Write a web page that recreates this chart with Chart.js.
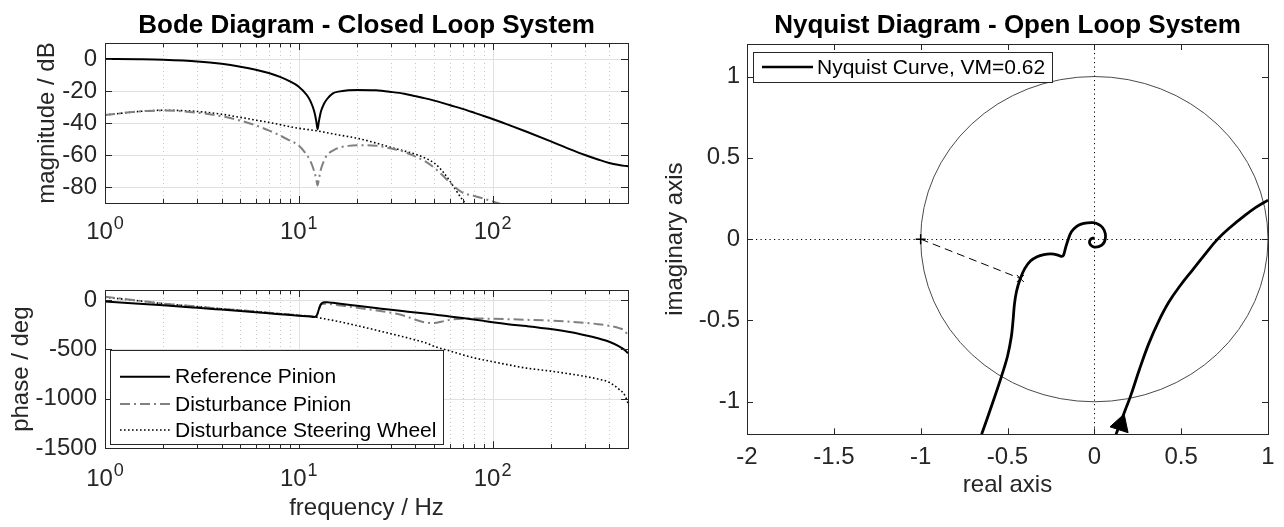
<!DOCTYPE html>
<html>
<head>
<meta charset="utf-8">
<script src="https://cdn.jsdelivr.net/npm/chart.js@4.4.0/dist/chart.umd.min.js"></script>
<style>
    html, body { margin: 0; padding: 0; background: #fff; }
    body { width: 1284px; height: 527px; position: relative; overflow: hidden; }
    canvas { position: absolute; display: block; }
</style>
</head>
<body>
<canvas id="magChart" width="640" height="250" style="left:0;top:0;width:640px;height:250px"></canvas>
<canvas id="phaseChart" width="640" height="277" style="left:0;top:250px;width:640px;height:277px"></canvas>
<canvas id="nyqChart" width="644" height="527" style="left:640px;top:0;width:644px;height:527px"></canvas>
<script>
// ---- data ----
const freq = [1, 1.5, 2, 3, 4, 5, 6, 7, 8, 9, 10, 11, 11.5, 12, 12.3, 12.5, 12.7, 13, 13.5, 14, 15, 16, 18, 20, 25, 30, 35, 40, 45, 50, 55, 60, 70, 80, 90, 100, 120, 150, 200, 250, 300, 350, 400, 450, 480, 500];

const magRef = [0, -0.2, -0.5, -1.5, -3, -4.8, -6.7, -8.8, -11.2, -14, -17.3, -22.5, -26.5, -32.5, -38.5, -44, -39, -33, -28, -25, -21.5, -20.4, -19.5, -19.3, -19.6, -20.6, -21.7, -23.2, -24.6, -26, -27.4, -28.8, -31.2, -33.5, -35.6, -37.5, -41, -45.5, -51.5, -56.3, -60, -62.8, -65, -66.3, -66.8, -67];
const magDistPinion = [-35, -32.8, -32.2, -33.6, -35.8, -38.5, -41.5, -44.6, -47.8, -51, -54, -60, -64, -70, -75, -79, -75, -69, -63.5, -60, -57.3, -55.6, -54.3, -53.9, -54.2, -56, -58, -61, -64, -68, -72.5, -77, -83.5, -85.5, -87.3, -89, -92, -95, -100, -103, -106, -108, -110, -112, -113, -114];
const magDistWheel = [-35, -32.8, -32, -32.8, -34.5, -36.5, -38.2, -39.6, -41, -42.3, -43.3, -44, -44.3, -44.6, -44.8, -45, -45.1, -45.3, -45.7, -46.1, -46.8, -47.4, -48.5, -49.5, -52.5, -55.3, -57.5, -59.5, -62, -65, -70, -76, -88, -96, -100, -103, -108, -112, -116, -120, -123, -126, -128, -131, -133, -135];

const phaseRef = [-17, -38, -55, -80, -98, -112, -124, -135, -145, -153, -160, -166, -169, -172, -165, -140, -95, -45, -25, -24, -30, -36, -48, -60, -82, -100, -115, -128, -138, -148, -158, -167, -183, -198, -212, -225, -245, -265, -295, -325, -357, -388, -423, -470, -505, -540];
const phaseDistPinion = [32, -8, -38, -68, -90, -105, -118, -130, -140, -148, -155, -162, -165, -168, -162, -135, -90, -45, -38, -40, -46, -54, -66, -80, -105, -130, -160, -200, -228, -233, -218, -202, -190, -188, -189, -191, -195, -201, -210, -220, -232, -245, -262, -285, -310, -360];
const phaseDistWheel = [27, -10, -38, -68, -90, -105, -118, -130, -140, -148, -156, -163, -167, -171, -174, -177, -180, -184, -190, -196, -207, -218, -240, -260, -305, -343, -375, -405, -432, -470, -495, -515, -555, -585, -607, -625, -655, -690, -720, -748, -773, -800, -833, -905, -960, -1045];

const seriesNames = ['Reference Pinion', 'Disturbance Pinion', 'Disturbance Steering Wheel'];

// nyquist curve, two visible branches
const branchARe = [0.125, 0.15, 0.178, 0.208, 0.26, 0.314, 0.37, 0.43, 0.495, 0.565, 0.637, 0.71, 0.785, 0.86, 0.93, 1.0];
const branchAIm = [-1.2, -1.13, -1.05, -0.967, -0.80, -0.641, -0.505, -0.385, -0.285, -0.19, -0.093, 0.0, 0.075, 0.14, 0.195, 0.24];
const branchBRe = [-0.649, -0.59, -0.535, -0.50, -0.478, -0.468, -0.46, -0.448, -0.426, -0.40, -0.368, -0.33, -0.29, -0.25, -0.215, -0.19, -0.178, -0.165, -0.15, -0.132, -0.105, -0.076, -0.04, -0.005, 0.025, 0.048, 0.063, 0.063, 0.05, 0.025, -0.005, -0.022, -0.028, -0.022, -0.01, 0];
const branchBIm = [-1.2, -1.02, -0.845, -0.72, -0.60, -0.50, -0.40, -0.32, -0.242, -0.18, -0.135, -0.108, -0.095, -0.091, -0.096, -0.106, -0.10, -0.05, 0.0, 0.045, 0.075, 0.092, 0.1, 0.101, 0.09, 0.07, 0.035, 0.0, -0.03, -0.046, -0.047, -0.035, -0.018, -0.002, 0.006, 0.006];
const criticalPoint = [-1, 0];
const vmPoint = [-0.426, -0.242];
const arrowPoint = [0.152, -1.14];
const unitRadius = 1;
const nyqLabel = 'Nyquist Curve, VM=0.62';

// ticks
const freqMajorTicks = [1, 10, 100];
const freqMinorTicks = [2, 3, 4, 5, 6, 7, 8, 9, 20, 30, 40, 50, 60, 70, 80, 90, 200, 300, 400];
const magTicks = [-80, -60, -40, -20, 0];
const phaseTicks = [-1500, -1000, -500, 0];
const nyqReTicks = [-2, -1.5, -1, -0.5, 0, 0.5, 1];
const nyqImTicks = [-1, -0.5, 0, 0.5, 1];

// ---- styles ----
const fontFamily = "'Liberation Sans', Arial, Helvetica, sans-serif";
const axisColor = '#262626';
const lineStyles = [
    { color: '#000000', width: 2, dash: [] },
    { color: '#808080', width: 2, dash: [10, 4, 2, 4] },
    { color: '#000000', width: 1.6, dash: [1.6, 2.4] }
];

Chart.defaults.font.family = fontFamily;
Chart.defaults.animation = false;

const toXY = (xs, ys) => xs.map((x, i) => ({ x: x, y: ys[i] }));
const crisp = v => Math.round(v) + 0.5;

function bodeDataset(values, i) {
    const s = lineStyles[i];
    return {
        label: seriesNames[i],
        data: toXY(freq, values),
        showLine: true,
        borderColor: s.color,
        borderWidth: s.width,
        borderDash: s.dash,
        pointRadius: 0,
        cubicInterpolationMode: 'monotone',
        fill: false
    };
}

function drawBodeGrid(chart, yTicks) {
    const { ctx, chartArea: a, scales: { x, y } } = chart;
    ctx.save();
    ctx.lineWidth = 1;
    ctx.strokeStyle = '#c6c6c6';
    ctx.setLineDash([1, 3]);
    ctx.beginPath();
    freqMinorTicks.forEach(f => {
        const px = crisp(x.getPixelForValue(f));
        ctx.moveTo(px, a.top); ctx.lineTo(px, a.bottom);
    });
    ctx.stroke();
    ctx.setLineDash([]);
    ctx.strokeStyle = '#e0e0e0';
    ctx.beginPath();
    freqMajorTicks.forEach(f => {
        const px = crisp(x.getPixelForValue(f));
        if (px <= a.left + 1 || px >= a.right - 1) return;
        ctx.moveTo(px, a.top); ctx.lineTo(px, a.bottom);
    });
    yTicks.forEach(v => {
        const py = crisp(y.getPixelForValue(v));
        ctx.moveTo(a.left, py); ctx.lineTo(a.right, py);
    });
    ctx.stroke();
    ctx.restore();
}

function drawFrame(chart, xMajor, xMinor, yTicks, len) {
    const { ctx, chartArea: a, scales: { x, y } } = chart;
    ctx.save();
    ctx.strokeStyle = axisColor;
    ctx.lineWidth = 1;
    ctx.beginPath();
    xMajor.forEach(v => {
        const px = crisp(x.getPixelForValue(v));
        ctx.moveTo(px, a.bottom); ctx.lineTo(px, a.bottom - len);
        ctx.moveTo(px, a.top); ctx.lineTo(px, a.top + len);
    });
    xMinor.forEach(v => {
        const px = crisp(x.getPixelForValue(v));
        ctx.moveTo(px, a.bottom); ctx.lineTo(px, a.bottom - len * 0.6);
        ctx.moveTo(px, a.top); ctx.lineTo(px, a.top + len * 0.6);
    });
    yTicks.forEach(v => {
        const py = crisp(y.getPixelForValue(v));
        ctx.moveTo(a.left, py); ctx.lineTo(a.left + len, py);
        ctx.moveTo(a.right, py); ctx.lineTo(a.right - len, py);
    });
    ctx.stroke();
    ctx.strokeRect(crisp(a.left), crisp(a.top), Math.round(a.right - a.left), Math.round(a.bottom - a.top));
    ctx.restore();
}

function drawLogLabels(chart, drop) {
    const { ctx, chartArea: a, scales: { x } } = chart;
    ctx.save();
    ctx.fillStyle = axisColor;
    ctx.textBaseline = 'alphabetic';
    ctx.textAlign = 'left';
    freqMajorTicks.forEach(f => {
        const px = x.getPixelForValue(f);
        const exp = String(Math.round(Math.log10(f)));
        ctx.font = '24px ' + fontFamily;
        const wb = ctx.measureText('10').width;
        ctx.font = '18px ' + fontFamily;
        const we = ctx.measureText(exp).width;
        const x0 = px - (wb + we + 1) / 2;
        const base = a.bottom + drop;
        ctx.font = '24px ' + fontFamily;
        ctx.fillText('10', x0, base);
        ctx.font = '18px ' + fontFamily;
        ctx.fillText(exp, x0 + wb + 1, base - 10);
    });
    ctx.restore();
}

function drawTitle(chart, text) {
    const { ctx, chartArea: a } = chart;
    ctx.save();
    ctx.font = 'bold 26px ' + fontFamily;
    ctx.fillStyle = '#000';
    ctx.textAlign = 'center';
    ctx.textBaseline = 'alphabetic';
    ctx.fillText(text, (a.left + a.right) / 2, 33);
    ctx.restore();
}

// legend box: entries drawn with their line style
function drawLegend(chart, left, top, rowYs, names, styles, lineX0, lineX1, textX, bottom) {
    const { ctx } = chart;
    ctx.save();
    ctx.font = '21px ' + fontFamily;
    const maxW = Math.max(...names.map(n => ctx.measureText(n).width));
    const right = textX + maxW + 7;
    ctx.fillStyle = '#fff';
    ctx.fillRect(left, top, right - left, bottom - top);
    ctx.strokeStyle = axisColor;
    ctx.lineWidth = 1;
    ctx.setLineDash([]);
    ctx.strokeRect(crisp(left), crisp(top), Math.round(right - left), Math.round(bottom - top));
    names.forEach((n, i) => {
        const s = styles[i];
        ctx.strokeStyle = s.color;
        ctx.lineWidth = s.width;
        ctx.setLineDash(s.dash);
        ctx.beginPath();
        ctx.moveTo(lineX0, rowYs[i]); ctx.lineTo(lineX1, rowYs[i]);
        ctx.stroke();
        ctx.fillStyle = '#000';
        ctx.textAlign = 'left';
        ctx.textBaseline = 'middle';
        ctx.fillText(n, textX, rowYs[i] + 1);
    });
    ctx.restore();
}

function linearTicks(values) {
    return s => { s.ticks = values.map(v => ({ value: v })); };
}

function logTicks(s) {
    const all = freqMajorTicks.concat(freqMinorTicks).sort((p, q) => p - q);
    s.ticks = all.map(v => ({ value: v, major: freqMajorTicks.includes(v) }));
}

const tickFont = { family: fontFamily, size: 24 };

// ---- magnitude ----
new Chart(document.getElementById('magChart'), {
    type: 'scatter',
    data: { datasets: [bodeDataset(magRef, 0), bodeDataset(magDistPinion, 1), bodeDataset(magDistWheel, 2)] },
    options: {
        responsive: false,
        events: [],
        layout: { padding: { top: 43, right: 12, left: 0, bottom: 0 } },
        plugins: { legend: { display: false }, tooltip: { enabled: false } },
        scales: {
            x: {
                type: 'logarithmic', min: 1, max: 500,
                afterBuildTicks: logTicks,
                afterFit: s => { s.height = 47; },
                grid: { display: false, drawTicks: false },
                border: { display: false },
                ticks: { display: false }
            },
            y: {
                min: -90, max: 10,
                afterBuildTicks: linearTicks(magTicks),
                afterFit: s => { s.width = 105; },
                grid: { display: false, drawTicks: false },
                border: { display: false },
                ticks: { font: tickFont, color: axisColor, padding: 8, callback: v => String(v) },
                title: { display: true, text: 'magnitude / dB', font: tickFont, color: axisColor, padding: { top: 33, bottom: 0 } }
            }
        }
    },
    plugins: [{
        id: 'bodeMag',
        beforeDatasetsDraw(chart) { drawBodeGrid(chart, magTicks); },
        afterDatasetsDraw(chart) {
            drawFrame(chart, freqMajorTicks, freqMinorTicks, magTicks, 7);
            drawLogLabels(chart, 36);
            drawTitle(chart, 'Bode Diagram - Closed Loop System');
        }
    }]
});

// ---- phase ----
new Chart(document.getElementById('phaseChart'), {
    type: 'scatter',
    data: { datasets: [bodeDataset(phaseRef, 0), bodeDataset(phaseDistPinion, 1), bodeDataset(phaseDistWheel, 2)] },
    options: {
        responsive: false,
        events: [],
        layout: { padding: { top: 40, right: 12, left: 0, bottom: 0 } },
        plugins: { legend: { display: false }, tooltip: { enabled: false } },
        scales: {
            x: {
                type: 'logarithmic', min: 1, max: 500,
                afterBuildTicks: logTicks,
                afterFit: s => { s.height = 78.7; },
                grid: { display: false, drawTicks: false },
                border: { display: false },
                ticks: { display: false },
                title: { display: true, text: 'frequency / Hz', font: tickFont, color: axisColor, padding: { top: 0, bottom: 4 } }
            },
            y: {
                min: -1500, max: 100,
                afterBuildTicks: linearTicks(phaseTicks),
                afterFit: s => { s.width = 105; },
                grid: { display: false, drawTicks: false },
                border: { display: false },
                ticks: { font: tickFont, color: axisColor, padding: 8, callback: v => String(v) },
                title: { display: true, text: 'phase / deg', font: tickFont, color: axisColor, padding: { top: 7, bottom: 0 } }
            }
        }
    },
    plugins: [{
        id: 'bodePhase',
        beforeDatasetsDraw(chart) { drawBodeGrid(chart, phaseTicks); },
        afterDatasetsDraw(chart) {
            const a = chart.chartArea;
            drawFrame(chart, freqMajorTicks, freqMinorTicks, phaseTicks, 7);
            drawLogLabels(chart, 38);
            drawLegend(chart, a.left + 5, a.top + 60, [a.top + 86.7, a.top + 114, a.top + 140],
                seriesNames, lineStyles, a.left + 15, a.left + 65, a.left + 70, a.top + 154);
        }
    }]
});

// ---- nyquist ----
new Chart(document.getElementById('nyqChart'), {
    type: 'scatter',
    data: {
        datasets: [
            { label: nyqLabel, data: toXY(branchARe, branchAIm), showLine: true, borderColor: '#000', borderWidth: 2.8, pointRadius: 0, tension: 0.4 },
            { label: nyqLabel, data: toXY(branchBRe, branchBIm), showLine: true, borderColor: '#000', borderWidth: 2.8, pointRadius: 0, tension: 0.3 },
            {
                label: 'VM', data: [{ x: criticalPoint[0], y: criticalPoint[1] }, { x: vmPoint[0], y: vmPoint[1] }],
                showLine: true, borderColor: '#000', borderWidth: 1, borderDash: [8, 5],
                pointStyle: ['cross', 'crossRot'], pointRadius: 5, pointBorderWidth: [1.5, 1], pointBorderColor: '#000'
            },
            {
                label: 'arrow', data: [{ x: arrowPoint[0], y: arrowPoint[1] }],
                pointStyle: 'triangle', pointRadius: 11, pointRotation: 18,
                pointBackgroundColor: '#000', pointBorderColor: '#000', pointBorderWidth: 1
            }
        ]
    },
    options: {
        responsive: false,
        events: [],
        layout: { padding: { top: 44, right: 16, left: 0, bottom: 0 } },
        plugins: { legend: { display: false }, tooltip: { enabled: false } },
        scales: {
            x: {
                type: 'linear', min: -2, max: 1,
                afterBuildTicks: linearTicks(nyqReTicks),
                afterFit: s => { s.height = 92.7; },
                grid: { display: false, drawTicks: false },
                border: { display: false },
                ticks: { font: tickFont, color: axisColor, padding: 9, maxRotation: 0, autoSkip: false, callback: v => String(v) },
                title: { display: true, text: 'real axis', font: tickFont, color: axisColor, padding: { top: 0, bottom: 27 } }
            },
            y: {
                min: -1.2, max: 1.2,
                afterBuildTicks: linearTicks(nyqImTicks),
                afterFit: s => { s.width = 107; },
                grid: { display: false, drawTicks: false },
                border: { display: false },
                ticks: { font: tickFont, color: axisColor, padding: 7, callback: v => String(v) },
                title: { display: true, text: 'imaginary axis', font: tickFont, color: axisColor, padding: { top: 21, bottom: 0 } }
            }
        }
    },
    plugins: [{
        id: 'nyqDecor',
        beforeDatasetsDraw(chart) {
            const { ctx, chartArea: a, scales: { x, y } } = chart;
            ctx.save();
            ctx.beginPath();
            ctx.rect(a.left, a.top, a.right - a.left, a.bottom - a.top);
            ctx.clip();
            const cx = x.getPixelForValue(0), cy = y.getPixelForValue(0);
            const rx = x.getPixelForValue(unitRadius) - cx;
            const ry = cy - y.getPixelForValue(unitRadius);
            ctx.strokeStyle = '#4a4a4a';
            ctx.lineWidth = 1;
            ctx.beginPath();
            ctx.ellipse(cx, cy, rx, ry, 0, 0, Math.PI * 2);
            ctx.stroke();
            ctx.strokeStyle = '#000';
            ctx.setLineDash([1.2, 3.3]);
            ctx.beginPath();
            ctx.moveTo(a.left, crisp(cy)); ctx.lineTo(a.right, crisp(cy));
            ctx.moveTo(crisp(cx), a.top); ctx.lineTo(crisp(cx), a.bottom);
            ctx.stroke();
            ctx.restore();
        },
        afterDatasetsDraw(chart) {
            const a = chart.chartArea;
            drawFrame(chart, nyqReTicks, [], nyqImTicks, 6);
            drawLegend(chart, a.left + 6, a.top + 8, [a.top + 23], [nyqLabel], [{ color: '#000', width: 2.5, dash: [] }],
                a.left + 15, a.left + 66, a.left + 70, a.top + 38);
            drawTitle(chart, 'Nyquist Diagram - Open Loop System');
        }
    }]
});
</script>
</body>
</html>
